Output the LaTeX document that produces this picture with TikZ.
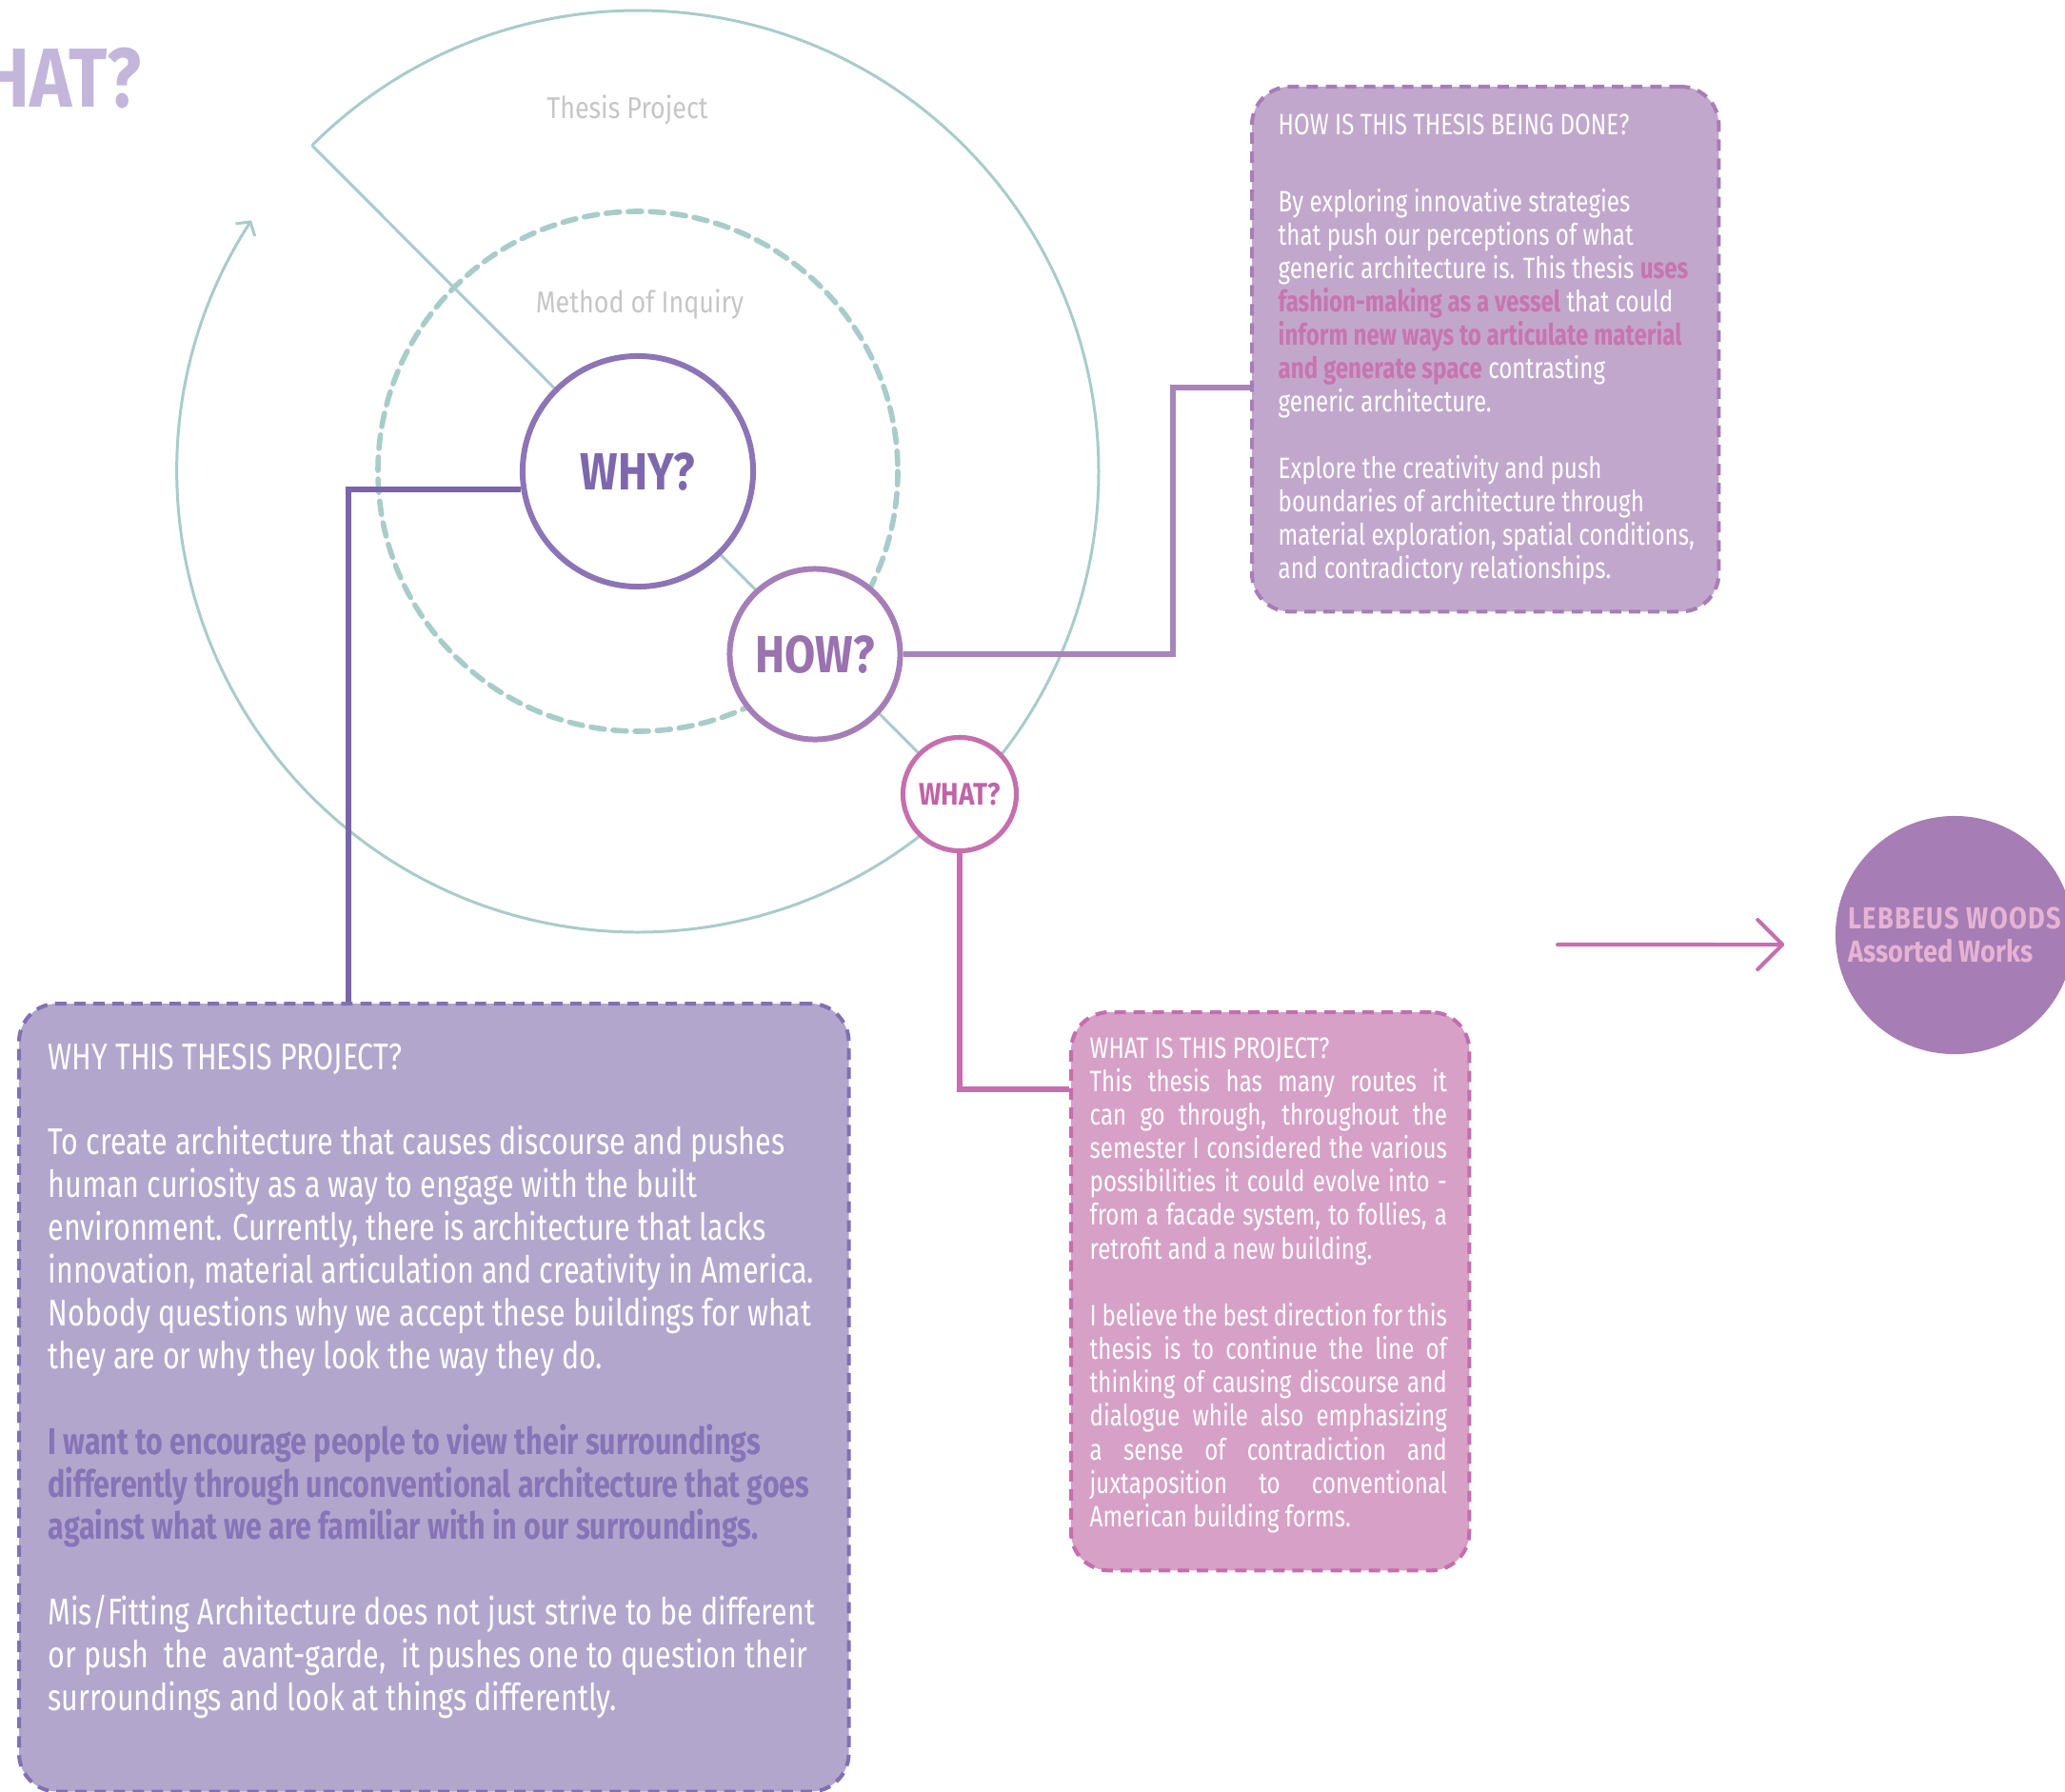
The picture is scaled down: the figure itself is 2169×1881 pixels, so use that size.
\documentclass[tikz,border=0pt]{standalone}
\usepackage{fontspec}
\setmainfont{Fira Sans}[FakeStretch=0.78]
\newfontfamily\headfont{Fira Sans}[FakeStretch=0.85]
\usetikzlibrary{arrows.meta,positioning,calc}

\definecolor{ringcol}{HTML}{A8CCC9}
\definecolor{greytext}{HTML}{C6C6C6}
\definecolor{bigwhat}{HTML}{C3B6DA}
\definecolor{whyline}{HTML}{8C74B6}
\definecolor{whyword}{HTML}{7E68AD}
\definecolor{whylink}{HTML}{7A64AA}
\definecolor{whyfill}{HTML}{B3A6CD}
\definecolor{whyedge}{HTML}{8170B2}
\definecolor{whydeep}{HTML}{8674B7}
\definecolor{howline}{HTML}{A57EB8}
\definecolor{howword}{HTML}{9A72AF}
\definecolor{howlink}{HTML}{A784BA}
\definecolor{howfill}{HTML}{C2A7CD}
\definecolor{howedge}{HTML}{A77DB7}
\definecolor{howpink}{HTML}{C874AF}
\definecolor{whatline}{HTML}{C66FAE}
\definecolor{whatword}{HTML}{C064A6}
\definecolor{whatfill}{HTML}{D7A0C7}
\definecolor{whatedge}{HTML}{C56EAD}
\definecolor{lebfill}{HTML}{A67DB4}
\definecolor{lebtext}{HTML}{E6B3D3}

\newcommand{\pinkbit}[1]{{\color{howpink}\bfseries #1}}
\newcommand{\fullline}[1]{\makebox[3.75cm][s]{#1}}

\tikzset{
  ring/.style={draw=ringcol, line width=0.85pt},
  inquiry/.style={draw=ringcol, line width=1.6pt, dash pattern=on 4pt off 2.6pt, line cap=round},
  bubble/.style={circle, fill=white, inner sep=0pt, line width=1.7pt},
  link/.style={line width=1.7pt},
  card/.style={
    rounded corners=0.4cm,
    line width=1.15pt,
    dash pattern=on 3.4pt off 2.3pt,
    anchor=north west,
    inner sep=0pt
  },
  bodytext/.style={text=white, inner sep=0pt, anchor=base west},
  ringtext/.style={text=greytext, inner sep=0pt, anchor=base, font=\headfont\fontsize{9}{11}\selectfont},
  pointer/.style={draw=whatline, line width=1.15pt, line cap=round,
    -{Straight Barb[length=0.26cm, width=0.52cm, round]}}
}

\begin{document}
\begin{tikzpicture}[x=0.01cm, y=-0.01cm]
\useasboundingbox (0,0) rectangle (2169,1881);

\coordinate (ctr) at (670,495);
\coordinate (howc) at (856,687);
\coordinate (whatc) at (1008,834);

% Rings
\draw[ring, -{Straight Barb[length=0.1cm, width=0.24cm]}] (ctr) ++(-135:484) arc[start angle=-135, end angle=213, radius=484];
\draw[inquiry] (ctr) circle[radius=273];
\draw[ring] (ctr) ++(-135:484) -- (whatc);

\node[ringtext] (thesis) at (659,124) {Thesis Project};
\node[ringtext] (inquiry) at (672,328) {Method of Inquiry};

\node[anchor=base east, inner sep=0pt, text=bigwhat, font=\headfont\fontsize{25}{30}\selectfont\bfseries] (heading) at (149,112) {WHAT?};

% Question circles
\node[bubble, draw=whyline, text=whyword, minimum size=2.42cm, font=\headfont\fontsize{15.6}{18}\selectfont\bfseries] (why) at (ctr) {WHY?};
\node[bubble, draw=howline, text=howword, minimum size=1.79cm, font=\headfont\fontsize{15.6}{18}\selectfont\bfseries] (how) at (howc) {HOW?};
\node[bubble, draw=whatline, text=whatword, minimum size=1.19cm, line width=1.45pt, font=\headfont\fontsize{9.3}{12}\selectfont\bfseries] (what) at (whatc) {WHAT?};

% Text cards
\node[card, draw=whyedge, fill=whyfill, minimum width=8.71cm, minimum height=8.27cm] (whybox) at (18,1052) {};
\node[card, draw=howedge, fill=howfill, minimum width=4.9cm, minimum height=5.51cm] (howbox) at (1313,89) {};
\node[card, draw=whatedge, fill=whatfill, minimum width=4.18cm, minimum height=5.86cm] (whatbox) at (1123,1061) {};

\node[bodytext, font=\fontsize{11.1}{12.77}\selectfont] (whytext) at (50,1123) {\parbox[t]{8.6cm}{\raggedright
WHY THIS THESIS PROJECT?\\[\baselineskip]
To create architecture that causes discourse and pushes\\
human curiosity as a way to engage with the built\\
environment. Currently, there is architecture that lacks\\
innovation, material articulation and creativity in America.\\
Nobody questions why we accept these buildings for what\\
they are or why they look the way they do.\\[\baselineskip]
{\color{whydeep}\bfseries I want to encourage people to view their surroundings\\
differently through unconventional architecture that goes\\
against what we are familiar with in our surroundings.}\\[\baselineskip]
Mis/Fitting Architecture does not just strive to be different\\
or push~ the~ avant-garde,~ it pushes one to question their\\
surroundings and look at things differently.}};

\node[bodytext, font=\fontsize{8.8}{9.96}\selectfont] (howtext) at (1342,141) {\parbox[t]{4.7cm}{\raggedright
HOW IS THIS THESIS BEING DONE?\\[0.46cm]
By exploring innovative strategies\\
that push our perceptions of what\\
generic architecture is. This thesis \pinkbit{uses}\\
\pinkbit{fashion-making as a vessel} that could\\
\pinkbit{inform new ways to articulate material}\\
\pinkbit{and generate space} contrasting\\
generic architecture.\\[\baselineskip]
Explore the creativity and push\\
boundaries of architecture through\\
material exploration, spatial conditions,\\
and contradictory relationships.}};

\node[bodytext, font=\fontsize{8.8}{10}\selectfont] (whattext) at (1144,1111) {\parbox[t]{3.8cm}{\raggedright
WHAT IS THIS PROJECT?\\
\fullline{This thesis has many routes it}\\
\fullline{can go through, throughout the}\\
\fullline{semester I considered the various}\\
\fullline{possibilities it could evolve into -}\\
\fullline{from a facade system, to follies, a}\\
retrofit and a new building.\\[\baselineskip]
\fullline{I believe the best direction for this}\\
\fullline{thesis is to continue the line of}\\
\fullline{thinking of causing discourse and}\\
\fullline{dialogue while also emphasizing}\\
\fullline{a sense of contradiction and}\\
\fullline{juxtaposition to conventional}\\
American building forms.}};

% Lebbeus Woods
\node[circle, fill=lebfill, minimum size=2.5cm, inner sep=0pt, align=left, text=lebtext, font=\headfont\fontsize{9.1}{9.96}\selectfont\bfseries] (lebbeus) at (2053,982) {{\addfontfeature{LetterSpace=4}LEBBEUS WOODS}\\Assorted Works};
\coordinate (arrowtail) at (1636,992);

% Connectors
\draw[link, draw=whylink] (why.189) -| ([xshift=-0.895cm]whybox.north);
\draw[link, draw=howlink] (how.east) -- ++(283,0) |- ([yshift=-0.405cm]howbox.west);
\draw[link, draw=whatline] (what.south) |- ([yshift=2.12cm]whatbox.west);
\draw[pointer] (arrowtail) -- ([xshift=-0.53cm, yshift=-0.1cm]lebbeus.west);

\end{tikzpicture}
\end{document}
